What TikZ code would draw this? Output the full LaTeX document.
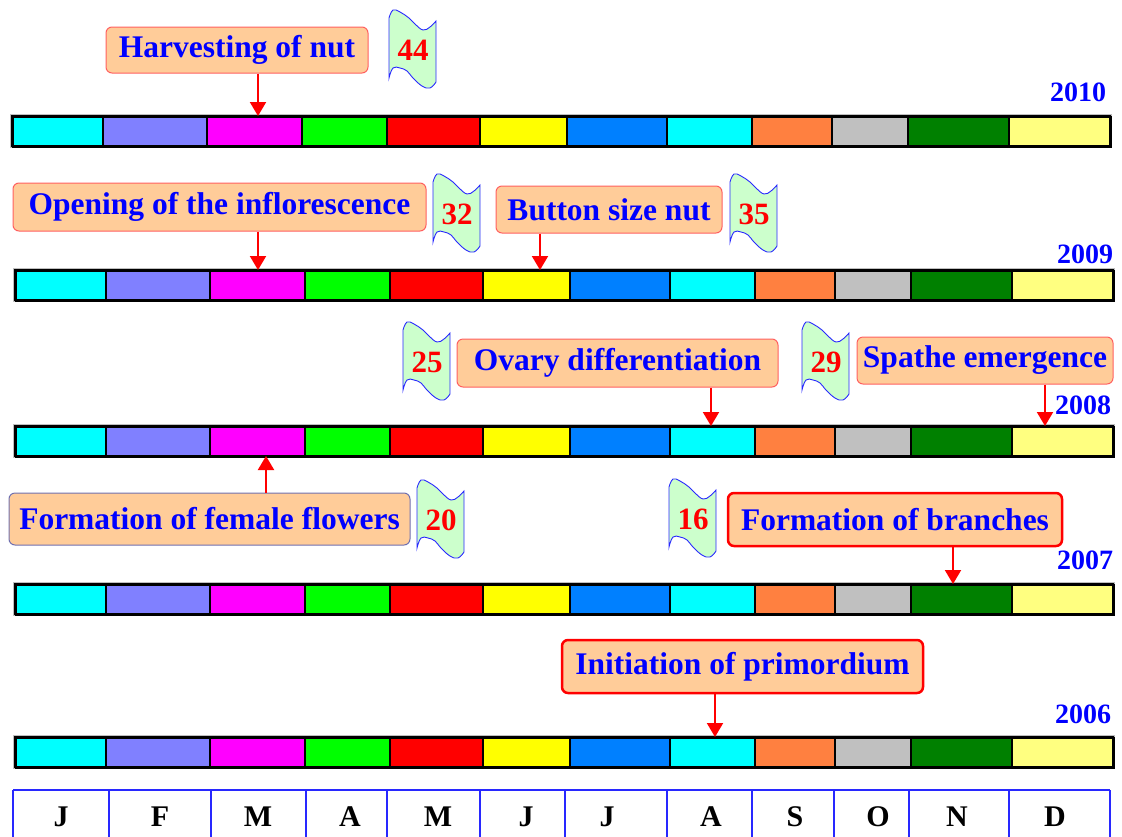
\documentclass[tikz,border=0pt]{standalone}
\usepackage{fontspec}
\setmainfont{Liberation Serif}
\usetikzlibrary{arrows.meta}
\definecolor{c1}{HTML}{00FFFF}
\definecolor{c2}{HTML}{8080FF}
\definecolor{c3}{HTML}{FF00FF}
\definecolor{c4}{HTML}{00FF00}
\definecolor{c5}{HTML}{FF0000}
\definecolor{c6}{HTML}{FFFF00}
\definecolor{c7}{HTML}{0080FF}
\definecolor{c8}{HTML}{00FFFF}
\definecolor{c9}{HTML}{FF8040}
\definecolor{c10}{HTML}{C0C0C0}
\definecolor{c11}{HTML}{008000}
\definecolor{c12}{HTML}{FFFF80}
\definecolor{peach}{HTML}{FFCC99}
\definecolor{flagfill}{HTML}{CCFFCC}
\definecolor{lred}{HTML}{FF6060}
\definecolor{bgray}{HTML}{7070B0}
\definecolor{gridblue}{HTML}{2828FF}
\tikzset{
  lbl/.style={draw=#1, fill=peach, rounded corners=6pt, text=blue,
    font=\bfseries\fontsize{31.5}{36}\selectfont, inner sep=0pt},
  arr/.style={draw=red, line width=2pt, -{Triangle[width=16pt,length=14pt]}},
  flagshape/.style={draw=gridblue, fill=flagfill, line width=0.9pt},
  numtxt/.style={text=red, font=\bfseries\fontsize{31}{36}\selectfont, inner sep=0pt},
  yeartxt/.style={text=blue, font=\bfseries\fontsize{28}{32}\selectfont, inner sep=0pt},
  monthtxt/.style={text=black, font=\bfseries\fontsize{30}{34}\selectfont, inner sep=0pt},
  gridline/.style={draw=gridblue, line width=1.5pt},
  seg/.style={draw=black, line width=1.3pt},
}
\newcommand\yearbar[3]{%
  \begin{scope}[shift={(#2,#3)}]
    \draw[black!25, line width=4.5pt] (15,0) rectangle (1113,30);
    \foreach \a/\b/\c in {15/106/c1,106/210/c2,210/305/c3,305/390/c4,390/483/c5,483/570/c6,570/670/c7,670/755/c8,755/835/c9,835/911/c10,911/1012/c11,1012/1113/c12}
      \filldraw[seg, fill=\c] (\a,0) rectangle (\b,30);
    \node[draw=black, line width=2pt, minimum width=1098pt, minimum height=30pt, inner sep=0pt, anchor=north west] (#1) at (15,0) {};
  \end{scope}}
\newcommand\numflag[4]{%
  \begin{scope}[shift={(#2,#3)}]
    \draw[flagshape] plot[smooth, tension=0.7] coordinates {(0,8)(4,0)(11,2)(20,8)(26,14)(34,20)(41,17)(47,11)}
      -- plot[smooth, tension=0.7] coordinates {(47,72)(41,78)(33,76)(24,68)(18,61)(11,58)(4,58)(0,68)} -- cycle;
    \node[numtxt] (#1) at (24,40) {#4};
  \end{scope}}
\begin{document}
\begin{tikzpicture}[x=1pt, y=-1pt]
\useasboundingbox (0,0) rectangle (1122,836);

% bars
\yearbar{b10}{-3}{116}
\yearbar{b09}{0}{270}
\yearbar{b08}{0}{426}
\yearbar{b07}{0}{584}
\yearbar{b06}{0}{737}

% years
\node[yeartxt] (y10) at (1078,92) {2010};
\node[yeartxt] (y09) at (1085,254) {2009};
\node[yeartxt] (y08) at (1083,405) {2008};
\node[yeartxt] (y07) at (1085,560) {2007};
\node[yeartxt] (y06) at (1083,714) {2006};

% flags
\numflag{f44}{389}{10}{44}
\numflag{f32}{433}{174}{32}
\numflag{f35}{730}{174}{35}
\numflag{f25}{403}{322}{25}
\numflag{f29}{802}{322}{29}
\numflag{f20}{417}{480}{20}
\numflag{f16}{669}{479}{16}

% labels
\node[lbl=lred, line width=1pt, minimum width=262pt, minimum height=46pt] (l1) at (237,50) {Harvesting of nut};
\node[lbl=lred, line width=1pt, minimum width=413pt, minimum height=48pt] (l2) at (219.5,207) {Opening of the inflorescence};
\node[lbl=lred, line width=1pt, minimum width=226pt, minimum height=47pt] (l3) at (609,209.5) {Button size nut};
\node[lbl=lred, line width=1pt, minimum width=321pt, minimum height=48pt] (l4) at (617.5,363) {Ovary differentiation};
\node[lbl=lred, line width=1pt, minimum width=256pt, minimum height=47pt] (l5) at (985,360.5) {Spathe emergence};
\node[lbl=bgray, line width=1pt, minimum width=401pt, minimum height=52pt] (l6) at (209.5,519) {Formation of female flowers};
\node[lbl=red, line width=2.5pt, minimum width=334pt, minimum height=53pt] (l7) at (895,519.5) {Formation of branches};
\node[lbl=red, line width=2.5pt, minimum width=361pt, minimum height=53pt] (l8) at (742.5,666.5) {Initiation of primordium};

% arrow targets
\coordinate (t1) at (258,116);
\coordinate (t2) at (258,270);
\coordinate (t3) at (540,270);
\coordinate (t4) at (711,426);
\coordinate (t5) at (1045,426);
\coordinate (t6) at (266,456);
\coordinate (t7) at (953,584);
\coordinate (t8) at (715,737);

\draw[arr] (l1.south -| t1) -- (t1);
\draw[arr] (l2.south -| t2) -- (t2);
\draw[arr] (l3.south -| t3) -- (t3);
\draw[arr] (l4.south -| t4) -- (t4);
\draw[arr] (l5.south -| t5) -- (t5);
\draw[arr] (l6.north -| t6) -- (t6);
\draw[arr] (l7.south -| t7) -- (t7);
\draw[arr] (l8.south -| t8) -- (t8);

% month grid
\draw[gridline] (13,790) -- (1110,790);
\foreach \x in {13,109,211,306,387,480,565,667,752,834,909,1009,1110}
  \draw[gridline] (\x,790) -- (\x,840);
\foreach \l/\x [count=\i] in {J/61,F/160,M/258,A/350,M/438,J/526,J/607,A/711,S/795,O/878,N/957,D/1055}
  \node[monthtxt] (m\i) at (\x,817) {\l};
\end{tikzpicture}
\end{document}
